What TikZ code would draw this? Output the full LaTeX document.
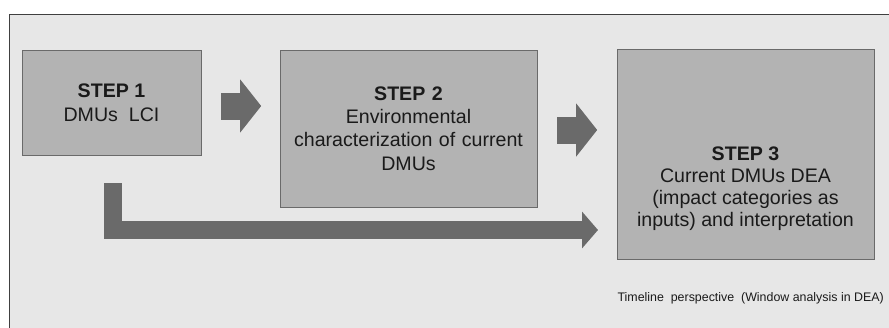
\documentclass[tikz,border=0pt]{standalone}
\usepackage{fontspec}
\setmainfont{Liberation Sans}
\usetikzlibrary{arrows.meta,calc}
\definecolor{ink}{HTML}{1A1A1A}
\definecolor{frameline}{HTML}{404040}
\definecolor{panel}{HTML}{E7E7E7}
\definecolor{stepfill}{HTML}{B3B3B3}
\definecolor{stepline}{HTML}{6A6A6A}
\definecolor{flowgrey}{HTML}{6A6A6A}
\tikzset{
  stepbox/.style={draw=stepline,fill=stepfill,align=center,text=ink,font=\fontsize{19.6}{23.5}\selectfont,inner sep=0pt},
  steptext/.style={align=center,text=ink,font=\fontsize{19.6}{22}\selectfont,inner sep=0pt},
  blockflow/.style={draw=flowgrey,line width=27pt,-{Triangle[length=21pt,width=52pt]}},
  timeflow/.style={draw=flowgrey,line width=18pt,line join=miter,-{Triangle[length=16pt,width=36pt]}},
  note/.style={font=\fontsize{12.4}{14}\selectfont,text=ink,inner sep=0pt}
}

\begin{document}
\begin{tikzpicture}[x=1pt,y=-1pt]
  \useasboundingbox (0,0) rectangle (889,327);
  \clip (0,0) rectangle (889,327);
  % panel
  \fill[panel] (9,14) rectangle (900,340);
  \draw[frameline,line width=1pt] (9,340) -- (9,14) -- (900,14);
  % steps
  \node[stepbox, minimum width=179pt, minimum height=105pt] (step1) at (111.5,102.5) {\textbf{STEP 1}\\DMUs\ \ LCI};
  \node[stepbox, minimum width=257pt, minimum height=157pt, text width=252pt] (step2) at (408.5,128.5) {\textbf{STEP 2}\\Environmental\\characterization\ of current\\DMUs};
  \node[stepbox, minimum width=257pt, minimum height=210pt] (step3) at (745.5,154) {};
  \node[steptext] (step3txt) at (745.5,189) {\textbf{STEP 3}\\Current DMUs DEA\\(impact categories as\\inputs) and interpretation};
  \coordinate (tip) at (598,230);
  % arrows
  \draw[blockflow] ([xshift=20pt,yshift=-3.5pt]step1.east) -- ++(40,0);
  \draw[blockflow] ([xshift=20pt,yshift=-1.5pt]step2.east) -- ++(40,0);
  \draw[timeflow] ([xshift=1.5pt,yshift=-28pt]step1.south) |- (tip);
  \node[note, anchor=base east] (timeline) at (884,301) {Timeline\ \ perspective\ \ (Window\ analysis\ in\ DEA)};
\end{tikzpicture}
\end{document}
